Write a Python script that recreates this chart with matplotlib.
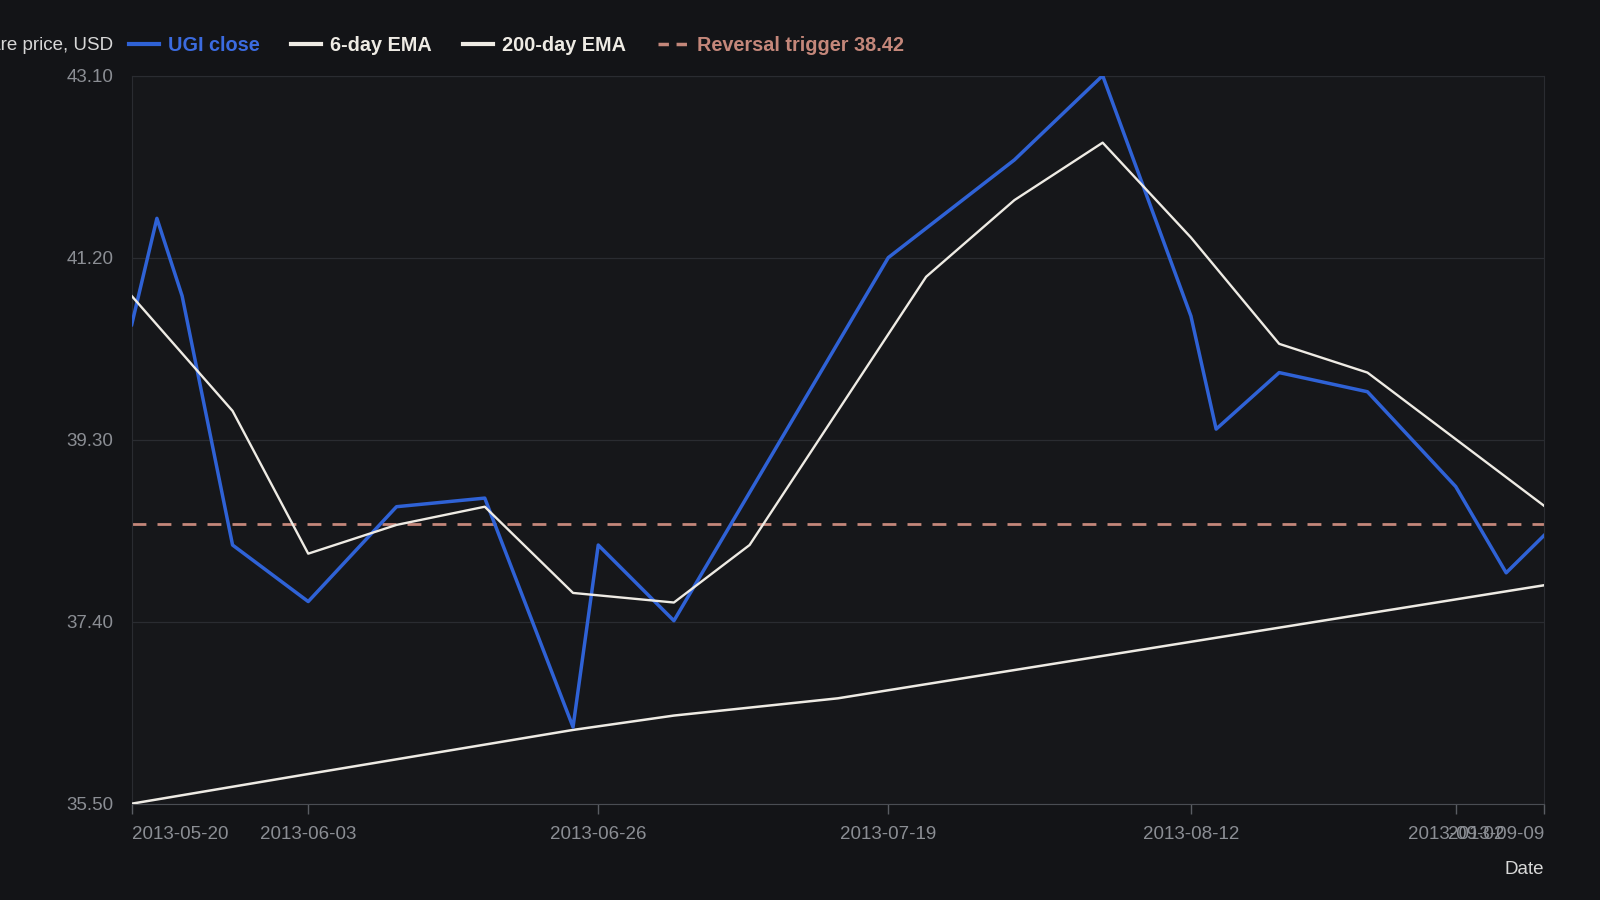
import pandas as pd
import matplotlib.pyplot as plt

plt.rcParams['font.family'] = ['Liberation Sans', 'DejaVu Sans']

# Precio de cierre UGI
fechas_cierre = ['2013-05-20', '2013-05-22', '2013-05-24', '2013-05-28', '2013-06-03', '2013-06-10',
                 '2013-06-17', '2013-06-24', '2013-06-26', '2013-07-02', '2013-07-19', '2013-07-29',
                 '2013-08-05', '2013-08-12', '2013-08-14', '2013-08-19', '2013-08-26', '2013-09-02',
                 '2013-09-06', '2013-09-09']
cierre = [40.50, 41.61, 40.80, 38.20, 37.61, 38.60, 38.69, 36.30, 38.20, 37.41, 41.20, 42.22,
          43.10, 40.59, 39.41, 40.00, 39.80, 38.81, 37.91, 38.30]

# EMA de 6 dias
fechas_ema6 = ['2013-05-20', '2013-05-28', '2013-06-03', '2013-06-10', '2013-06-17', '2013-06-24',
               '2013-07-02', '2013-07-08', '2013-07-22', '2013-07-29', '2013-08-05', '2013-08-12',
               '2013-08-19', '2013-08-26', '2013-09-09']
ema6 = [40.80, 39.60, 38.11, 38.41, 38.60, 37.70, 37.60, 38.20, 41.00, 41.80, 42.40, 41.41,
        40.30, 40.00, 38.61]

# EMA de 200 dias
fechas_ema200 = ['2013-05-20', '2013-06-03', '2013-06-24', '2013-07-02', '2013-07-15', '2013-08-12',
                 '2013-09-09']
ema200 = [35.50, 35.81, 36.27, 36.42, 36.60, 37.19, 37.78]

trigger = 38.42
ticks_fechas = ['2013-05-20', '2013-06-03', '2013-06-26', '2013-07-19', '2013-08-12', '2013-09-02',
                '2013-09-09']
ticks_y = [35.50, 37.40, 39.30, 41.20, 43.10]

azul = '#2f62d6'
blanco = '#eeebe4'
salmon = '#c4877a'
gris = '#8b8e94'

fig = plt.figure(figsize=(16, 9), dpi=100, facecolor='#131417')
ax = fig.add_axes([0.0823, 0.107, 0.8827, 0.809])
ax.set_facecolor('#16171a')

ax.plot(pd.to_datetime(fechas_ema200), ema200, color=blanco, lw=1.8, label='200-day EMA', zorder=3)
ax.axhline(trigger, color=salmon, lw=2, dashes=(5, 4), label=f'Reversal trigger {trigger:.2f}', zorder=2)
ax.plot(pd.to_datetime(fechas_cierre), cierre, color=azul, lw=2.5, label='UGI close', zorder=4)
ax.plot(pd.to_datetime(fechas_ema6), ema6, color=blanco, lw=1.7, label='6-day EMA', zorder=5)

ax.set_xlim(pd.Timestamp('2013-05-20'), pd.Timestamp('2013-09-09'))
ax.set_ylim(35.50, 43.10)
ax.set_yticks(ticks_y)
ax.set_yticklabels([f'{v:.2f}' for v in ticks_y])
ax.set_xticks(pd.to_datetime(ticks_fechas))
ax.set_xticklabels(ticks_fechas)
etiquetas = ax.get_xticklabels()
etiquetas[0].set_ha('left')
etiquetas[-1].set_ha('right')

ax.grid(axis='y', color='#2a2c31', lw=0.9)
ax.grid(axis='x', visible=False)
for lado in ['top', 'left', 'right']:
    ax.spines[lado].set_color('#2a2c31')
ax.spines['bottom'].set_color('#4a4d53')
ax.tick_params(axis='y', length=0, pad=13, labelsize=13.5, labelcolor=gris)
ax.tick_params(axis='x', length=7, width=1, color='#5a5d63', pad=9, labelsize=13.5, labelcolor=gris)

ax.set_xlabel('Date', color='#d8d8d8', fontsize=13.5, loc='right', labelpad=13)
fig.text(0.0708, 0.949, 'Share price, USD', color='#d8d8d8', fontsize=13.5, ha='right', va='center')

handles, labels = ax.get_legend_handles_labels()
orden = [2, 3, 0, 1]
leg = fig.legend([handles[i] for i in orden], [labels[i] for i in orden], loc='center left',
                 bbox_to_anchor=(0.0805, 0.949), ncol=4, frameon=False, fontsize=14.3,
                 handlelength=1.5, handletextpad=0.45, columnspacing=1.6, borderpad=0, borderaxespad=0)
for texto, linea in zip(leg.get_texts(), leg.get_lines()):
    texto.set_fontweight('bold')
    texto.set_color(linea.get_color())
    linea.set_linewidth(3)
leg.get_texts()[0].set_color('#3b6be0')
leg.get_lines()[3].set_linewidth(2.5)
leg.get_lines()[3].set_dashes((3, 2.2))

fig.savefig('out.png', dpi=100, facecolor=fig.get_facecolor())
